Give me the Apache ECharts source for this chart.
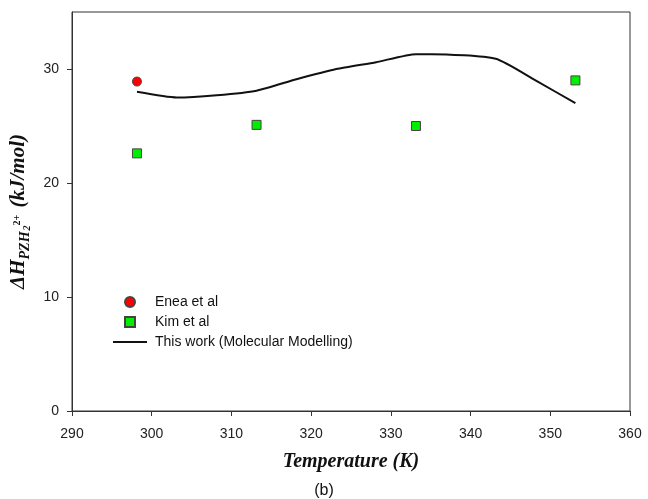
<!DOCTYPE html>
<html lang="en">
<head>
    <meta charset="UTF-8">
    <title>Enthalpy PZH2</title>
    <script src="https://cdn.jsdelivr.net/npm/echarts@6/dist/echarts.min.js"></script>
    <style>
        html, body { margin: 0; padding: 0; background: #fff; }
        #chart { width: 648px; height: 499px; }
    </style>
</head>
<body>
<div id="chart"></div>
<script>
    // data
    var eneaT = [298.15];
    var eneaH = [28.9];
    var kimT = [298.15, 313.15, 333.15, 353.15];
    var kimH = [22.6, 25.1, 25.0, 29.0];
    var modelT = [298.15, 303.15, 308.15, 313.15, 318.15, 323.15, 328.15, 333.15, 335.15, 343.15, 348.15, 353.15];
    var modelH = [28.0, 27.5, 27.7, 28.1, 29.1, 30.0, 30.6, 31.3, 31.3, 30.9, 29.0, 27.0];
    var yTicks = [0, 10, 20, 30];

    function pairs(xs, ys) {
        var out = [];
        for (var i = 0; i < xs.length; i++) out.push([xs[i], ys[i]]);
        return out;
    }

    var chart = echarts.init(document.getElementById('chart'));
    chart.setOption({
        animation: false,
        grid: {
            left: 72, right: 18, top: 12, bottom: 88,
            containLabel: false,
            outerBoundsMode: 'none',
            show: true, borderColor: '#333', borderWidth: 1, backgroundColor: 'transparent'
        },
        title: {
            text: '(b)',
            left: 'center',
            top: 478,
            textStyle: { fontFamily: 'Liberation Sans', fontSize: 16, fontWeight: 'normal', color: '#111' }
        },
        legend: {
            orient: 'vertical',
            left: 113,
            top: 295,
            padding: 0,
            itemWidth: 34,
            itemHeight: 10,
            itemGap: 6,
            textStyle: { fontFamily: 'Liberation Sans', fontSize: 14, color: '#111', padding: [0, 0, 0, 3] },
            data: [
                { name: 'Enea et al', icon: 'circle' },
                { name: 'Kim et al', icon: 'path://M0,0h10v10h-10z' },
                { name: 'This work (Molecular Modelling)', icon: 'path://M0,0h36v2h-36z' }
            ]
        },
        xAxis: {
            type: 'value',
            min: 290, max: 360, interval: 10,
            name: 'Temperature (K)',
            nameLocation: 'middle',
            nameGap: 41,
            nameTextStyle: { fontFamily: 'Liberation Serif', fontSize: 20, fontWeight: 'bold', fontStyle: 'italic', color: '#111' },
            axisLine: { show: true, lineStyle: { color: '#333', width: 1 } },
            axisTick: { show: true, inside: false, length: 5, lineStyle: { color: '#333' } },
            axisLabel: { fontFamily: 'Liberation Sans', fontSize: 14, color: '#222', margin: 16 },
            splitLine: { show: false }
        },
        yAxis: {
            type: 'value',
            min: 0, max: 35,
            name: '{m|ΔH}{s|PZH}{t|2}{u|2+}{m| (kJ/mol)}',
            nameLocation: 'middle',
            nameRotate: 90,
            nameGap: 40,
            nameTextStyle: {
                color: '#111',
                rich: {
                    m: { fontFamily: 'Liberation Serif', fontSize: 21, fontWeight: 'bold', fontStyle: 'italic', lineHeight: 24, verticalAlign: 'top' },
                    s: { fontFamily: 'Liberation Serif', fontSize: 14, fontWeight: 'bold', fontStyle: 'italic', lineHeight: 24, verticalAlign: 'bottom' },
                    t: { fontFamily: 'Liberation Serif', fontSize: 10, fontWeight: 'bold', fontStyle: 'italic', lineHeight: 24, verticalAlign: 'bottom', padding: [0, 0, 0, 1] },
                    u: { fontFamily: 'Liberation Serif', fontSize: 10, fontWeight: 'bold', lineHeight: 24, verticalAlign: 'top', padding: [4, 2, 0, 0] }
                }
            },
            axisLine: { show: true, lineStyle: { color: '#333', width: 1 } },
            axisTick: { show: true, inside: false, length: 5, lineStyle: { color: '#333' }, customValues: yTicks },
            axisLabel: { fontFamily: 'Liberation Sans', fontSize: 14, color: '#222', margin: 13, customValues: yTicks },
            splitLine: { show: false }
        },
        series: [
            {
                name: 'Enea et al',
                type: 'scatter',
                symbol: 'circle',
                symbolSize: 9,
                itemStyle: { color: '#ff0000', opacity: 1, borderColor: '#444', borderWidth: 1 },
                data: pairs(eneaT, eneaH),
                z: 5
            },
            {
                name: 'Kim et al',
                type: 'scatter',
                symbol: 'rect',
                symbolSize: 9,
                itemStyle: { color: '#00ee00', opacity: 1, borderColor: '#444', borderWidth: 1 },
                data: pairs(kimT, kimH),
                z: 5
            },
            {
                name: 'This work (Molecular Modelling)',
                type: 'line',
                symbol: 'none',
                smooth: 0.2,
                lineStyle: { color: '#111', width: 2 },
                itemStyle: { color: '#111' },
                data: pairs(modelT, modelH)
            }
        ]
    });
</script>
</body>
</html>
